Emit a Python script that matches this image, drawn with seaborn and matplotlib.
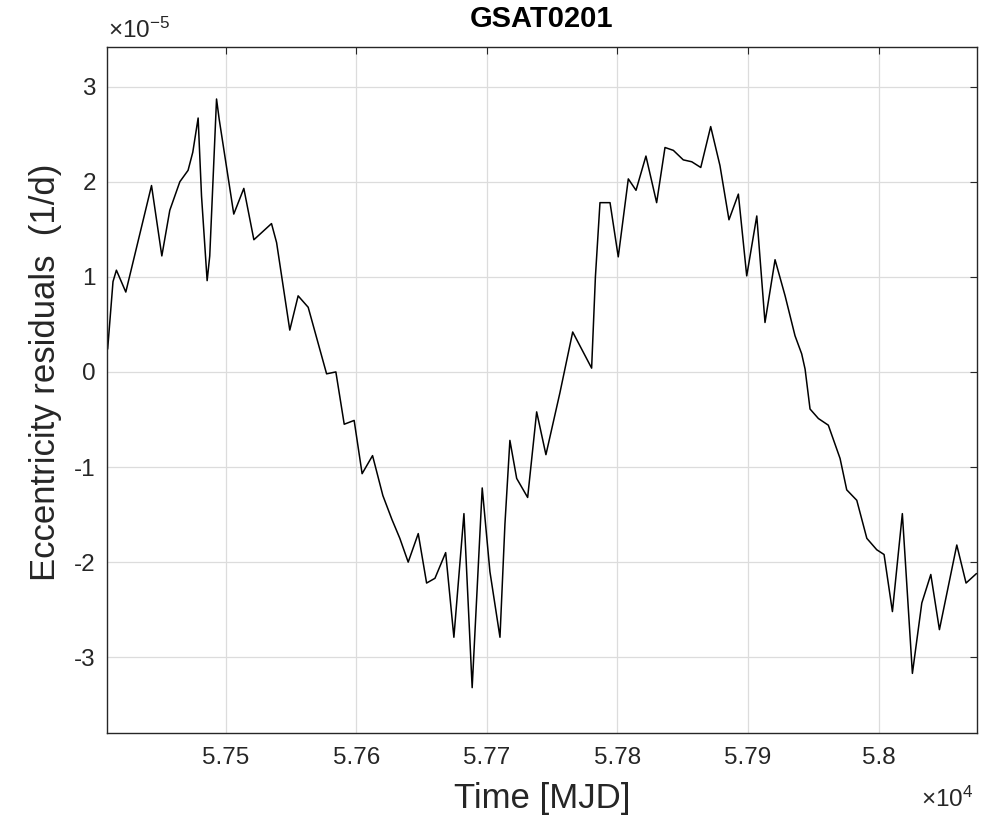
import numpy as np
import seaborn as sns
import matplotlib
matplotlib.use('Agg')
import matplotlib.pyplot as plt

# Eccentricity residuals (MJD, units of 1e-5 1/d)
mjd = [57409.5, 57413.6, 57416.2, 57423.4, 57443.1, 57451.0, 57457.1, 57464.8,
       57471.1, 57474.7, 57478.8, 57481.4, 57485.7, 57487.7, 57492.9, 57494.9,
       57506.1, 57513.8, 57521.5, 57535.0, 57538.9, 57549.0, 57555.4, 57563.1,
       57577.2, 57584.3, 57590.7, 57598.3, 57604.4, 57612.4, 57620.3, 57627.2,
       57633.3, 57639.7, 57647.4, 57653.8, 57660.2, 57668.4, 57674.7, 57682.4,
       57688.7, 57696.4, 57702.3, 57710.0, 57713.8, 57717.6, 57722.8, 57731.2,
       57738.1, 57745.2, 57755.9, 57765.7, 57780.2, 57783.1, 57786.6, 57794.3,
       57800.6, 57808.3, 57814.2, 57821.8, 57830.0, 57836.4, 57842.8, 57850.4,
       57856.9, 57863.8, 57871.4, 57878.5, 57885.4, 57892.6, 57899.0, 57906.7,
       57913.0, 57920.7, 57928.4, 57936.0, 57941.1, 57943.7, 57947.5, 57953.9,
       57961.5, 57970.5, 57975.6, 57983.3, 57991.0, 57998.6, 58004.2, 58010.6,
       58018.2, 58025.9, 58033.1, 58040.0, 58046.6, 58059.9, 58067.0, 58075.0]
resid_e5 = [0.24, 0.95, 1.07, 0.84, 1.96, 1.22, 1.70, 2.00,
            2.12, 2.31, 2.67, 1.85, 0.96, 1.22, 2.87, 2.66,
            1.66, 1.93, 1.39, 1.56, 1.36, 0.44, 0.80, 0.68,
            -0.02, 0.00, -0.55, -0.51, -1.07, -0.88, -1.30, -1.55,
            -1.75, -2.00, -1.70, -2.22, -2.17, -1.90, -2.79, -1.49,
            -3.32, -1.22, -2.10, -2.79, -1.60, -0.72, -1.12, -1.32,
            -0.42, -0.87, -0.22, 0.42, 0.04, 1.00, 1.78, 1.78,
            1.21, 2.03, 1.91, 2.27, 1.78, 2.36, 2.33, 2.23,
            2.21, 2.15, 2.58, 2.17, 1.60, 1.87, 1.01, 1.64,
            0.52, 1.18, 0.80, 0.38, 0.19, 0.03, -0.39, -0.49,
            -0.56, -0.91, -1.24, -1.35, -1.75, -1.87, -1.92, -2.52,
            -1.49, -3.17, -2.43, -2.13, -2.71, -1.82, -2.22, -2.12]

xticks = [57500, 57600, 57700, 57800, 57900, 58000]
xtick_labels = ['5.75', '5.76', '5.77', '5.78', '5.79', '5.8']
yticks = [-3, -2, -1, 0, 1, 2, 3]
ytick_labels = ['-3', '-2', '-1', '0', '1', '2', '3']

sns.set_theme(style='white')
plt.rcParams['font.family'] = ['Liberation Sans', 'DejaVu Sans']
plt.rcParams['mathtext.fontset'] = 'custom'
plt.rcParams['mathtext.rm'] = 'Liberation Sans'
plt.rcParams['mathtext.it'] = 'Liberation Sans:italic'

resid = np.array(resid_e5) * 1e-5
dark = '#262626'

fig = plt.figure(figsize=(9.88, 8.22), dpi=100)
ax = fig.add_axes([107 / 988, 1 - 733.3 / 822, 869.5 / 988, 686.6 / 822])

sns.lineplot(x=mjd, y=resid, ax=ax, color='black', linewidth=1.1,
             estimator=None, sort=False)

ax.set_xlim(57409, 58075)
ax.set_ylim(-3.8e-5, 3.42e-5)
ax.set_xticks(xticks)
ax.set_xticklabels(xtick_labels)
ax.set_yticks(np.array(yticks) * 1e-5)
ax.set_yticklabels(ytick_labels)

ax.grid(True, color='#dcdcdc', linewidth=0.9)
ax.set_axisbelow(True)
for s in ax.spines.values():
    s.set_color(dark)
    s.set_linewidth(1.0)
ax.tick_params(direction='in', length=5, width=0.8, colors=dark,
               top=True, right=True, labelsize=17.5)
ax.tick_params(axis='x', pad=10)
ax.tick_params(axis='y', pad=8)

ax.set_title('GSAT0201', fontsize=21, fontweight='bold', pad=14, color='black')
ax.set_xlabel('Time [MJD]', fontsize=25, color=dark, labelpad=9)
ax.set_ylabel('Eccentricity residuals  (1/d)', fontsize=25, color=dark, labelpad=9)
ax.yaxis.label.set_y(0.526)

ax.annotate('×10$^{-5}$', xy=(0, 1), xycoords='axes fraction',
            xytext=(1, 6), textcoords='offset points',
            ha='left', va='baseline', fontsize=17.5, color=dark)
ax.annotate('×10$^{4}$', xy=(1, 0), xycoords='axes fraction',
            xytext=(-2, -53), textcoords='offset points',
            ha='right', va='baseline', fontsize=17.5, color=dark)

fig.savefig('out.png', dpi=100)
